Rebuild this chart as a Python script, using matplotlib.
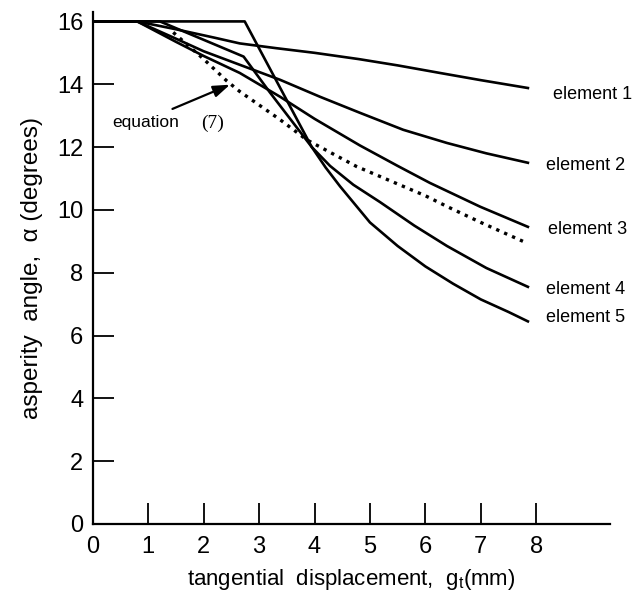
import matplotlib
matplotlib.use("Agg")
import matplotlib.pyplot as plt

plt.rcParams['font.family'] = ['Liberation Sans', 'DejaVu Sans']
plt.rcParams['mathtext.default'] = 'regular'

# ---- data ----
el1_x = [0, 0.8, 1.5, 2.2, 2.65, 3.3, 4.0, 4.8, 5.5, 6.26, 7.0, 7.85]
el1_y = [16, 16, 15.75, 15.48, 15.3, 15.15, 15.0, 14.8, 14.6, 14.36, 14.13, 13.88]

el2_x = [0, 0.8, 1.5, 2.0, 2.65, 3.38, 4.1, 4.82, 5.6, 6.39, 7.1, 7.85]
el2_y = [16, 16, 15.45, 15.05, 14.62, 14.14, 13.6, 13.09, 12.55, 12.13, 11.8, 11.5]

el3_x = [0, 0.8, 1.5, 2.0, 2.65, 3.38, 4.0, 4.82, 5.5, 6.08, 6.99, 7.85]
el3_y = [16, 16, 15.35, 14.9, 14.36, 13.6, 12.9, 12.05, 11.4, 10.86, 10.1, 9.46]

el4_x = [0, 1.21, 2.72, 3.19, 3.95, 4.28, 4.7, 5.18, 5.8, 6.39, 7.1, 7.85]
el4_y = [16, 16, 14.88, 13.75, 12.0, 11.4, 10.8, 10.25, 9.5, 8.85, 8.15, 7.55]

el5_x = [0, 2.74, 3.95, 4.2, 4.46, 5.0, 5.5, 6.0, 6.5, 7.0, 7.5, 7.85]
el5_y = [16, 16, 12.0, 11.35, 10.75, 9.6, 8.85, 8.2, 7.65, 7.15, 6.75, 6.45]

eq7_x = [1.45, 2.0, 2.42, 2.65, 3.38, 3.86, 4.76, 5.2, 6.0, 6.4, 7.0, 7.76]
eq7_y = [15.65, 14.8, 14.1, 13.77, 12.87, 12.23, 11.38, 11.05, 10.45, 10.1, 9.6, 9.0]

series_labels = ['element 1', 'element 2', 'element 3', 'element 4', 'element 5']
label_x = [8.3, 8.17, 8.22, 8.17, 8.17]
label_y = [13.66, 11.4, 9.36, 7.45, 6.56]

x_ticks = [0, 1, 2, 3, 4, 5, 6, 7, 8]
y_ticks = [0, 2, 4, 6, 8, 10, 12, 14, 16]

# ---- figure ----
fig = plt.figure(figsize=(6.36, 6.12), dpi=100)
ax = fig.add_axes([0.146, 0.1438, 0.813, 0.8366])

lw = 1.9
for xs, ys in [(el1_x, el1_y), (el2_x, el2_y), (el3_x, el3_y),
               (el4_x, el4_y), (el5_x, el5_y)]:
    ax.plot(xs, ys, color='black', lw=lw, solid_joinstyle='round')
ax.plot(eq7_x, eq7_y, color='black', lw=2.4, linestyle=(0, (1.0, 1.6)))

for lab, xx, yy in zip(series_labels, label_x, label_y):
    ax.text(xx, yy, lab, fontsize=13, ha='left', va='center')

ax.annotate('', xy=(2.52, 14.02), xytext=(1.39, 13.18),
            arrowprops=dict(arrowstyle='-|>,head_length=1.0,head_width=0.35',
                            color='black', lw=1.6))
ax.text(0.35, 12.77, 'equation', fontsize=12.5, ha='left', va='center')
ax.text(1.95, 12.77, '(7)', fontsize=14, ha='left', va='center',
        family='Liberation Serif')

ax.set_xlim(0, 9.33)
ax.set_ylim(0, 16.3)
ax.set_xticks(x_ticks)
ax.set_yticks(y_ticks)
ax.tick_params(direction='in', length=15, width=1.3, labelsize=17)
ax.tick_params(axis='x', pad=9)
ax.tick_params(axis='y', pad=7)
for s in ['top', 'right']:
    ax.spines[s].set_visible(False)
for s in ['left', 'bottom']:
    ax.spines[s].set_linewidth(1.6)

ax.set_xlabel('tangential  displacement,  g$_t$(mm)', fontsize=16, labelpad=6)
ax.set_ylabel('asperity  angle,  α (degrees)', fontsize=17.5, labelpad=10)

fig.savefig('out.png', dpi=100)
